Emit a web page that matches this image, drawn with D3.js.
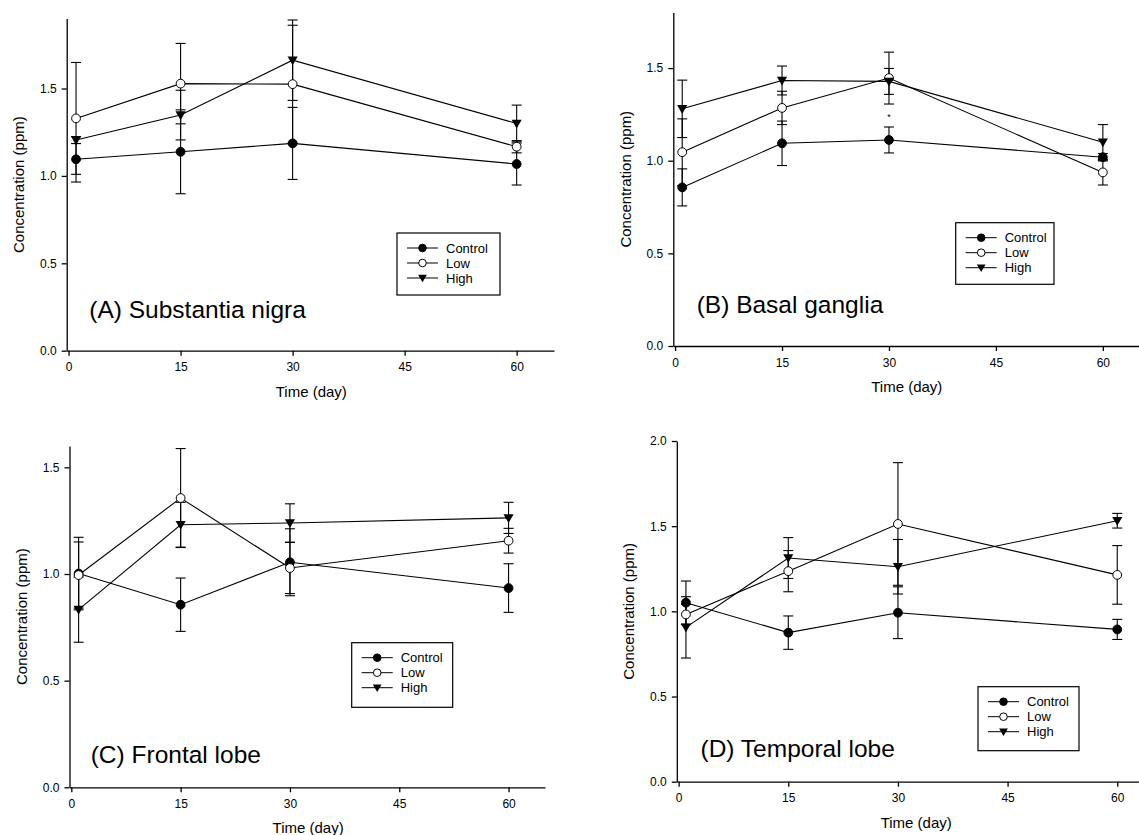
<!DOCTYPE html>
<html>
<head>
<meta charset="utf-8">
<script src="https://cdn.jsdelivr.net/npm/d3@7"></script>
<style>
  body { margin: 0; background: #fff; }
  svg { display: block; font-family: "Liberation Sans", Arial, sans-serif; }
</style>
</head>
<body>
<svg id="chart" width="1139" height="835"></svg>
<script>
// sampling days and axis ticks
const days = [1, 15, 30, 60];
const dayTicks = [0, 15, 30, 45, 60];
const groupNames = ["Control", "Low", "High"];
const titles = ["(A) Substantia nigra", "(B) Basal ganglia", "(C) Frontal lobe", "(D) Temporal lobe"];

// (A) Substantia nigra
const snControl = [1.095, 1.138, 1.186, 1.068], snControlErr = [0.13, 0.24, 0.206, 0.12];
const snLow = [1.329, 1.528, 1.525, 1.167], snLowErr = [0.32, 0.23, 0.337, 0.035];
const snHigh = [1.205, 1.348, 1.662, 1.300], snHighErr = [0.02, 0.142, 0.23, 0.105];
const snTicks = [0, 0.5, 1.0, 1.5];

// (B) Basal ganglia
const bgControl = [0.856, 1.094, 1.112, 1.019], bgControlErr = [0.10, 0.12, 0.07, 0.02];
const bgLow = [1.046, 1.285, 1.446, 0.937], bgLowErr = [0.18, 0.09, 0.14, 0.068];
const bgHigh = [1.28, 1.433, 1.428, 1.10], bgHighErr = [0.155, 0.078, 0.07, 0.095];
const bgTicks = [0, 0.5, 1.0, 1.5];
const bgStar = [30, 1.235];   // "*" mark at day 30

// (C) Frontal lobe
const flControl = [1.002, 0.856, 1.055, 0.934], flControlErr = [0.17, 0.125, 0.157, 0.114];
const flLow = [0.995, 1.356, 1.028, 1.156], flLowErr = [0.155, 0.232, 0.12, 0.058];
const flHigh = [0.833, 1.231, 1.239, 1.263], flHighErr = [0.153, 0.105, 0.09, 0.073];
const flTicks = [0, 0.5, 1.0, 1.5];

// (D) Temporal lobe
const tlControl = [1.051, 0.875, 0.992, 0.894], tlControlErr = [0.127, 0.098, 0.152, 0.059];
const tlLow = [0.982, 1.236, 1.513, 1.214], tlLowErr = [0.06, 0.121, 0.36, 0.172];
const tlHigh = [0.906, 1.313, 1.262, 1.532], tlHighErr = [0.18, 0.12, 0.16, 0.043];
const tlTicks = [0, 0.5, 1.0, 1.5, 2.0];

const panels = [
    { title: titles[0], means: [snControl, snLow, snHigh], errs: [snControlErr, snLowErr, snHighErr], ticks: snTicks,
      yMax: 1.9, left: 66.7, right: 554, bottom: 350.7, top: 18.6,
      titleX: 89.3, titleY: 318.3, legend: { x: 397, y: 233, w: 103, h: 62 } },
    { title: titles[1], means: [bgControl, bgLow, bgHigh], errs: [bgControlErr, bgLowErr, bgHighErr], ticks: bgTicks,
      yMax: 1.8, left: 673.3, right: 1138.5, bottom: 346, top: 12.5,
      titleX: 696.7, titleY: 312.7, legend: { x: 955.7, y: 222.7, w: 98.3, h: 61.6 }, star: bgStar },
    { title: titles[2], means: [flControl, flLow, flHigh], errs: [flControlErr, flLowErr, flHighErr], ticks: flTicks,
      yMax: 1.6, left: 69.5, right: 545, bottom: 787.3, top: 446,
      titleX: 90.7, titleY: 762.7, legend: { x: 351.7, y: 642.7, w: 101, h: 64.6 } },
    { title: titles[3], means: [tlControl, tlLow, tlHigh], errs: [tlControlErr, tlLowErr, tlHighErr], ticks: tlTicks,
      yMax: 2.0, left: 676.8, right: 1153.8, bottom: 781.7, top: 441,
      titleX: 700.5, titleY: 756.7, legend: { x: 978, y: 686.7, w: 101, h: 64 } }
];

const svg = d3.select("#chart");

function marker(sel, kind, r) {
    if (kind === 2) {
        const w = r * 1.15;
        sel.append("path")
            .attr("d", `M${-w},${-r * 0.85}L${w},${-r * 0.85}L0,${r * 1.15}Z`)
            .attr("fill", "#000");
    } else {
        sel.append("circle")
            .attr("r", r)
            .attr("fill", kind === 0 ? "#000" : "#fff")
            .attr("stroke", "#000")
            .attr("stroke-width", 1);
    }
}

function drawPanel(p) {
    const x = d3.scaleLinear().domain([-0.25, 65]).range([p.left, p.right]);
    const y = d3.scaleLinear().domain([0, p.yMax]).range([p.bottom, p.top]);
    const g = svg.append("g");

    const xAxis = g.append("g")
        .attr("transform", `translate(0,${p.bottom})`)
        .call(d3.axisBottom(x).tickValues(dayTicks).tickSize(5).tickSizeOuter(0).tickPadding(7));
    const yAxis = g.append("g")
        .attr("transform", `translate(${p.left},0)`)
        .call(d3.axisLeft(y).tickValues(p.ticks).tickFormat(d3.format(".1f")).tickSize(5).tickSizeOuter(0).tickPadding(5));
    [xAxis, yAxis].forEach(a => {
        a.attr("font-family", null).attr("font-size", 12);
        a.selectAll("path, line").attr("stroke", "#000").attr("stroke-width", 1.3);
        a.selectAll("text").attr("fill", "#000");
    });

    // axis titles
    g.append("text")
        .attr("x", (x(0) + x(65)) / 2)
        .attr("y", p.bottom + 46)
        .attr("text-anchor", "middle")
        .attr("font-size", 15)
        .text("Time (day)");
    g.append("text")
        .attr("transform", `translate(${p.left - 48},${(p.top + p.bottom) / 2}) rotate(-90)`)
        .attr("text-anchor", "middle")
        .attr("dominant-baseline", "central")
        .attr("font-size", 15)
        .text("Concentration (ppm)");

    // lines
    const line = d3.line().x((d, i) => x(days[i])).y(d => y(d));
    p.means.forEach(m => {
        g.append("path").datum(m)
            .attr("d", line)
            .attr("fill", "none")
            .attr("stroke", "#000")
            .attr("stroke-width", 1.1);
    });

    // error bars
    p.means.forEach((m, s) => {
        m.forEach((v, i) => {
            const e = p.errs[s][i];
            const cx = x(days[i]);
            const eb = g.append("g").attr("stroke", "#000").attr("stroke-width", 1.1);
            eb.append("line").attr("x1", cx).attr("x2", cx).attr("y1", y(v - e)).attr("y2", y(v + e));
            [v - e, v + e].forEach(t => {
                eb.append("line").attr("x1", cx - 5).attr("x2", cx + 5).attr("y1", y(t)).attr("y2", y(t));
            });
        });
    });

    // markers
    p.means.forEach((m, s) => {
        m.forEach((v, i) => {
            const mg = g.append("g").attr("transform", `translate(${x(days[i])},${y(v)})`);
            marker(mg, s, 4.4);
        });
    });

    if (p.star) {
        g.append("text")
            .attr("x", x(p.star[0]))
            .attr("y", y(p.star[1]))
            .attr("text-anchor", "middle")
            .attr("dominant-baseline", "central")
            .attr("font-size", 9)
            .text("*");
    }

    // panel title
    g.append("text")
        .attr("x", p.titleX)
        .attr("y", p.titleY)
        .attr("font-size", 24.5)
        .text(p.title);

    // legend
    const L = p.legend;
    const lg = g.append("g").attr("transform", `translate(${L.x},${L.y})`);
    lg.append("rect")
        .attr("width", L.w).attr("height", L.h)
        .attr("fill", "#fff").attr("stroke", "#000").attr("stroke-width", 1.2);
    groupNames.forEach((name, s) => {
        const ry = 15 + s * 15;
        lg.append("line")
            .attr("x1", 10).attr("x2", 41).attr("y1", ry).attr("y2", ry)
            .attr("stroke", "#000").attr("stroke-width", 1);
        const mg = lg.append("g").attr("transform", `translate(25.5,${ry})`);
        marker(mg, s, 3.8);
        lg.append("text")
            .attr("x", 49).attr("y", ry)
            .attr("dominant-baseline", "central")
            .attr("font-size", 13)
            .text(name);
    });
}

panels.forEach(drawPanel);
</script>
</body>
</html>
